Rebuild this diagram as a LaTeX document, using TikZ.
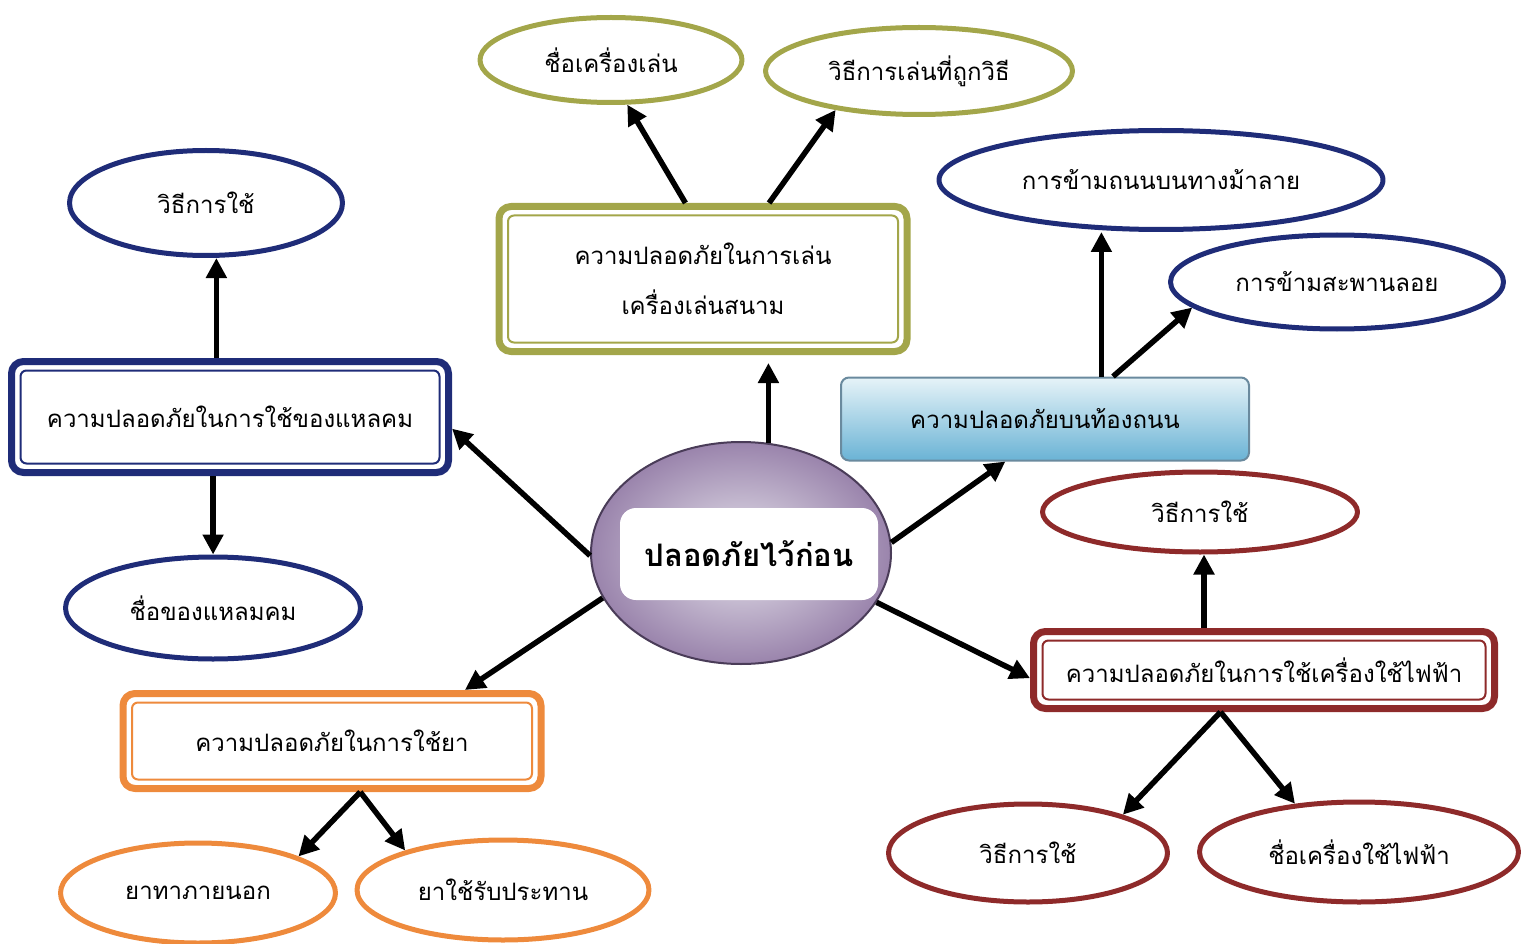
\documentclass[tikz,border=0pt]{standalone}
\usepackage{fontspec}
\setmainfont[Script=Thai]{Loma}
\usetikzlibrary{shapes.geometric,arrows.meta}
\definecolor{olivec}{HTML}{A3A64A}
\definecolor{navyc}{HTML}{1F2C78}
\definecolor{orangec}{HTML}{EE8A3C}
\definecolor{redc}{HTML}{8E2A2A}
\definecolor{hubin}{HTML}{E6E4EC}
\definecolor{hubout}{HTML}{9A84AC}
\definecolor{hubedge}{HTML}{4A3C58}
\definecolor{roadtop}{HTML}{E6F3F8}
\definecolor{roadbot}{HTML}{6AB3D5}
\definecolor{roadedge}{HTML}{6A8A9E}
\begin{document}
\begin{tikzpicture}[x=1pt,y=-1pt,line join=round,
	arr/.style={line width=5.5pt,-{Triangle[length=20pt,width=20pt]}},
	leaf/.style={ellipse,draw=#1,line width=5pt,fill=white,inner sep=0pt,
		font=\fontsize{24}{30}\selectfont},
	topic/.style={rectangle,rounded corners=12pt,draw=#1,line width=7pt,fill=white,
		align=center,inner sep=0pt,font=\fontsize{24}{50}\selectfont,
		path picture={\draw[#1,line width=2pt,rounded corners=6pt]
			([shift={(9pt,-9pt)}]path picture bounding box.north west) rectangle
			([shift={(-9pt,9pt)}]path picture bounding box.south east);}},
	road/.style={rectangle,rounded corners=8pt,draw=roadedge,line width=2pt,
		top color=roadtop,bottom color=roadbot,inner sep=0pt,
		font=\fontsize{24}{30}\selectfont},
	hub/.style={ellipse,draw=hubedge,line width=2pt,inner color=hubin,outer color=hubout,
		minimum width=300pt,minimum height=222pt},
	hubtext/.style={rectangle,rounded corners=16pt,fill=white,minimum width=258pt,
		minimum height=92pt,font=\bfseries\fontsize{31}{40}\selectfont}]
	\useasboundingbox (0,0) rectangle (1521,944);
	%== center
	\node[hub] (hub) at (741,553) {};
	\node[hubtext] (title) at (749,554) {ปลอดภัยไว้ก่อน};
	%== playground
	\node[topic=olivec,minimum width=408pt,minimum height=145pt] (play) at (703,279) {ความปลอดภัยในการเล่น\\เครื่องเล่นสนาม};
	\node[leaf=olivec,minimum width=262pt,minimum height=85pt] (play1) at (611,60) {ชื่อเครื่องเล่น};
	\node[leaf=olivec,minimum width=307pt,minimum height=87pt] (play2) at (919,71) {วิธีการเล่นที่ถูกวิธี};
	%== sharp things
	\node[topic=navyc,minimum width=437pt,minimum height=111pt] (sharp) at (230,417) {ความปลอดภัยในการใช้ของแหลคม};
	\node[leaf=navyc,minimum width=273pt,minimum height=105pt] (sharp1) at (206,203) {วิธีการใช้};
	\node[leaf=navyc,minimum width=295pt,minimum height=102pt] (sharp2) at (213,608) {ชื่อของแหลมคม};
	%== medicine
	\node[topic=orangec,minimum width=418pt,minimum height=95pt] (med) at (332,741) {ความปลอดภัยในการใช้ยา};
	\node[leaf=orangec,minimum width=275pt,minimum height=100pt] (med1) at (198,893) {ยาทาภายนอก};
	\node[leaf=orangec,minimum width=292pt,minimum height=100pt] (med2) at (503,890) {ยาใช้รับประทาน};
	%== road
	\node[road,minimum width=408pt,minimum height=83pt] (road) at (1045,419) {ความปลอดภัยบนท้องถนน};
	\node[leaf=navyc,minimum width=444pt,minimum height=99pt] (road1) at (1161,180) {การข้ามถนนบนทางม้าลาย};
	\node[leaf=navyc,minimum width=333pt,minimum height=94pt] (road2) at (1337,282) {การข้ามสะพานลอย};
	%== electric
	\node[topic=redc,minimum width=461pt,minimum height=77pt] (elec) at (1264,670) {ความปลอดภัยในการใช้เครื่องใช้ไฟฟ้า};
	\node[leaf=redc,minimum width=315pt,minimum height=80pt] (elec1) at (1200,512) {วิธีการใช้};
	\node[leaf=redc,minimum width=279pt,minimum height=98pt] (elec2) at (1028,853) {วิธีการใช้};
	\node[leaf=redc,minimum width=319pt,minimum height=100pt] (elec3) at (1359,852) {ชื่อเครื่องใช้ไฟฟ้า};
	%== arrows
	\draw[arr,shorten >=8pt] (hub.76) -- (hub.76 |- play.south);
	\draw[arr] (play.103) -- (play1.-70);
	\draw[arr] (play.49) -- (play2.205);
	\draw[arr] (hub.181) -- (sharp.-3);
	\draw[arr] (sharp.103) -- (sharp.103 |- sharp1.south);
	\draw[arr] (sharp.254) -- (sharp.254 |- sharp2.north);
	\draw[arr] (hub.198) -- (med.21);
	\draw[arr] (med.-61) -- (med1.20);
	\draw[arr] (med.-61) -- (med2.158);
	\draw[arr] (hub.4) -- (road.227);
	\draw[arr] (road.37) -- (road.37 |- road1.south);
	\draw[arr] (road.32) -- (road2.190);
	\draw[arr] (hub.-20) -- (elec.182);
	\draw[arr] (elec.145) -- (elec.145 |- elec1.south);
	\draw[arr] (elec.224) -- (elec2.22);
	\draw[arr] (elec.224) -- (elec3.143);
\end{tikzpicture}
\end{document}
